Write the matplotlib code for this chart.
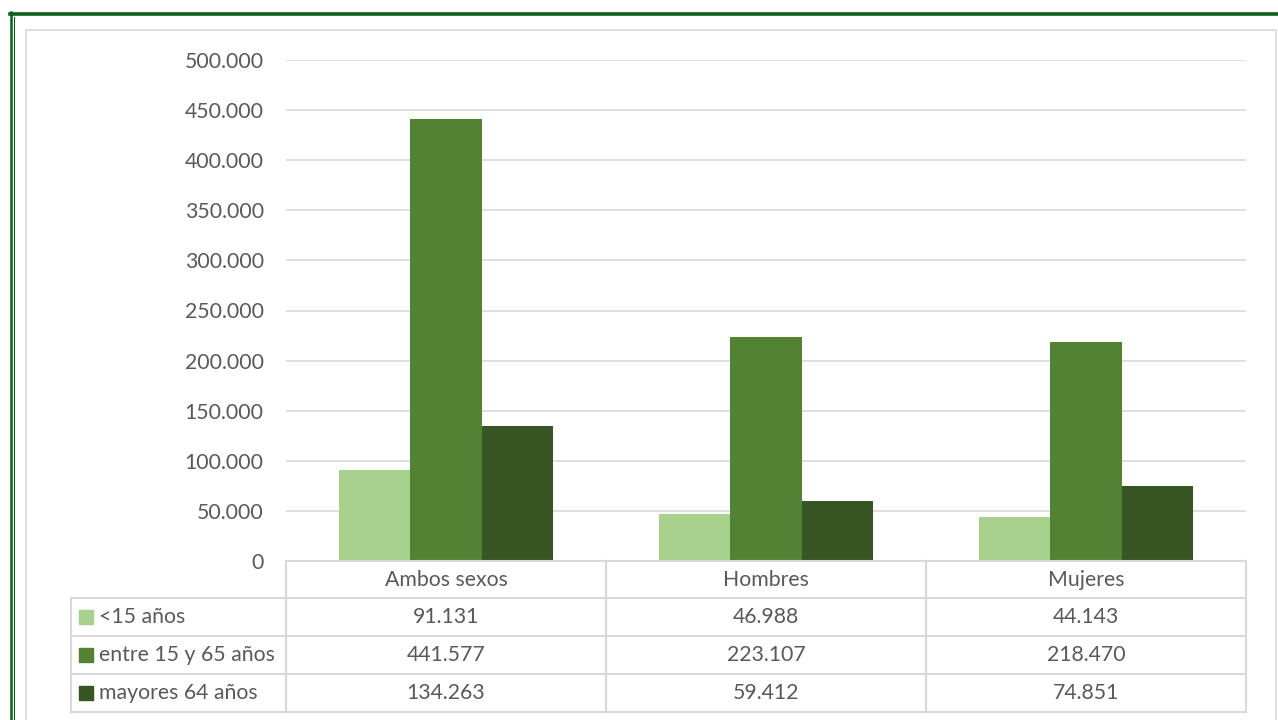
import matplotlib.pyplot as plt
import numpy as np
from matplotlib.lines import Line2D
from matplotlib.patches import Rectangle

plt.rcParams['font.family'] = ['Lato', 'DejaVu Sans']

categories = ['Ambos sexos', 'Hombres', 'Mujeres']
series_names = ['<15 años', 'entre 15 y 65 años', 'mayores 64 años']
menores = [91131, 46988, 44143]
entre = [441577, 223107, 218470]
mayores = [134263, 59412, 74851]
series = [menores, entre, mayores]
colors = ['#a9d18e', '#548235', '#375623']
yticks = [0, 50000, 100000, 150000, 200000, 250000, 300000, 350000, 400000, 450000, 500000]

W, H = 1278, 720
fig = plt.figure(figsize=(W / 100, H / 100), dpi=100)
txt = '#595959'
grid = '#d9d9d9'
fs = 15.3

def fx(px):
    return px / W

def fy(py):
    return 1 - py / H

# outer decoration
fig.add_artist(Line2D([fx(10), 1], [fy(13.5), fy(13.5)], color='#0b5e1c', lw=2.6))
fig.add_artist(Line2D([fx(10.5), fx(10.5)], [fy(12), 0], color='#0b5e1c', lw=1.8))
fig.add_artist(Line2D([fx(13.5), fx(13.5)], [fy(17), 0], color='#0b5e1c', lw=0.8))
fig.add_artist(Rectangle((fx(25.5), -0.1), fx(1250), fy(30.5) + 0.1, transform=fig.transFigure,
                         fill=False, ec='#d9d9d9', lw=1.2))

ax = fig.add_axes([fx(286), fy(561), fx(960), (561 - 60) / H])
x = np.arange(len(categories))
bw = 0.222
for i, vals in enumerate(series):
    ax.bar(x + (i - 1) * bw, vals, width=bw, color=colors[i], zorder=3)

ax.set_xlim(-0.5, 2.5)
ax.set_ylim(0, 500000)
ax.set_yticks(yticks)
ax.set_yticklabels(['{:,}'.format(v).replace(',', '.') for v in yticks], color=txt, fontsize=fs)
ax.tick_params(axis='y', length=0, pad=16)
ax.set_xticks([])
ax.grid(axis='y', color=grid, lw=1.2, zorder=0)
for s in ax.spines.values():
    s.set_visible(False)

# data table below the chart
row_tops = [561, 598, 636, 674, 712]
left_leg = 71
xb = [286, 606, 926, 1246]
lc = '#d9d9d9'
fig.add_artist(Line2D([fx(286), fx(1246)], [fy(561), fy(561)], color=lc, lw=1.5))
for r in row_tops[1:]:
    fig.add_artist(Line2D([fx(left_leg), fx(1246)], [fy(r), fy(r)], color=lc, lw=1.5))
for xv in xb:
    fig.add_artist(Line2D([fx(xv), fx(xv)], [fy(561), fy(712)], color=lc, lw=1.5))
fig.add_artist(Line2D([fx(left_leg), fx(left_leg)], [fy(598), fy(712)], color=lc, lw=1.5))

for j, c in enumerate(categories):
    cx = (xb[j] + xb[j + 1]) / 2
    fig.text(fx(cx), fy((row_tops[0] + row_tops[1]) / 2), c, ha='center', va='center',
             color=txt, fontsize=fs)
for i, name in enumerate(series_names):
    cy = (row_tops[i + 1] + row_tops[i + 2]) / 2
    fig.add_artist(Rectangle((fx(79), fy(cy + 7)), fx(14), 14 / H, transform=fig.transFigure,
                             color=colors[i]))
    fig.text(fx(99), fy(cy), name, ha='left', va='center', color=txt, fontsize=fs)
    for j in range(len(categories)):
        cx = (xb[j] + xb[j + 1]) / 2
        fig.text(fx(cx), fy(cy), '{:,}'.format(series[i][j]).replace(',', '.'),
                 ha='center', va='center', color=txt, fontsize=fs)

fig.savefig('out.png', dpi=100, facecolor='white')
